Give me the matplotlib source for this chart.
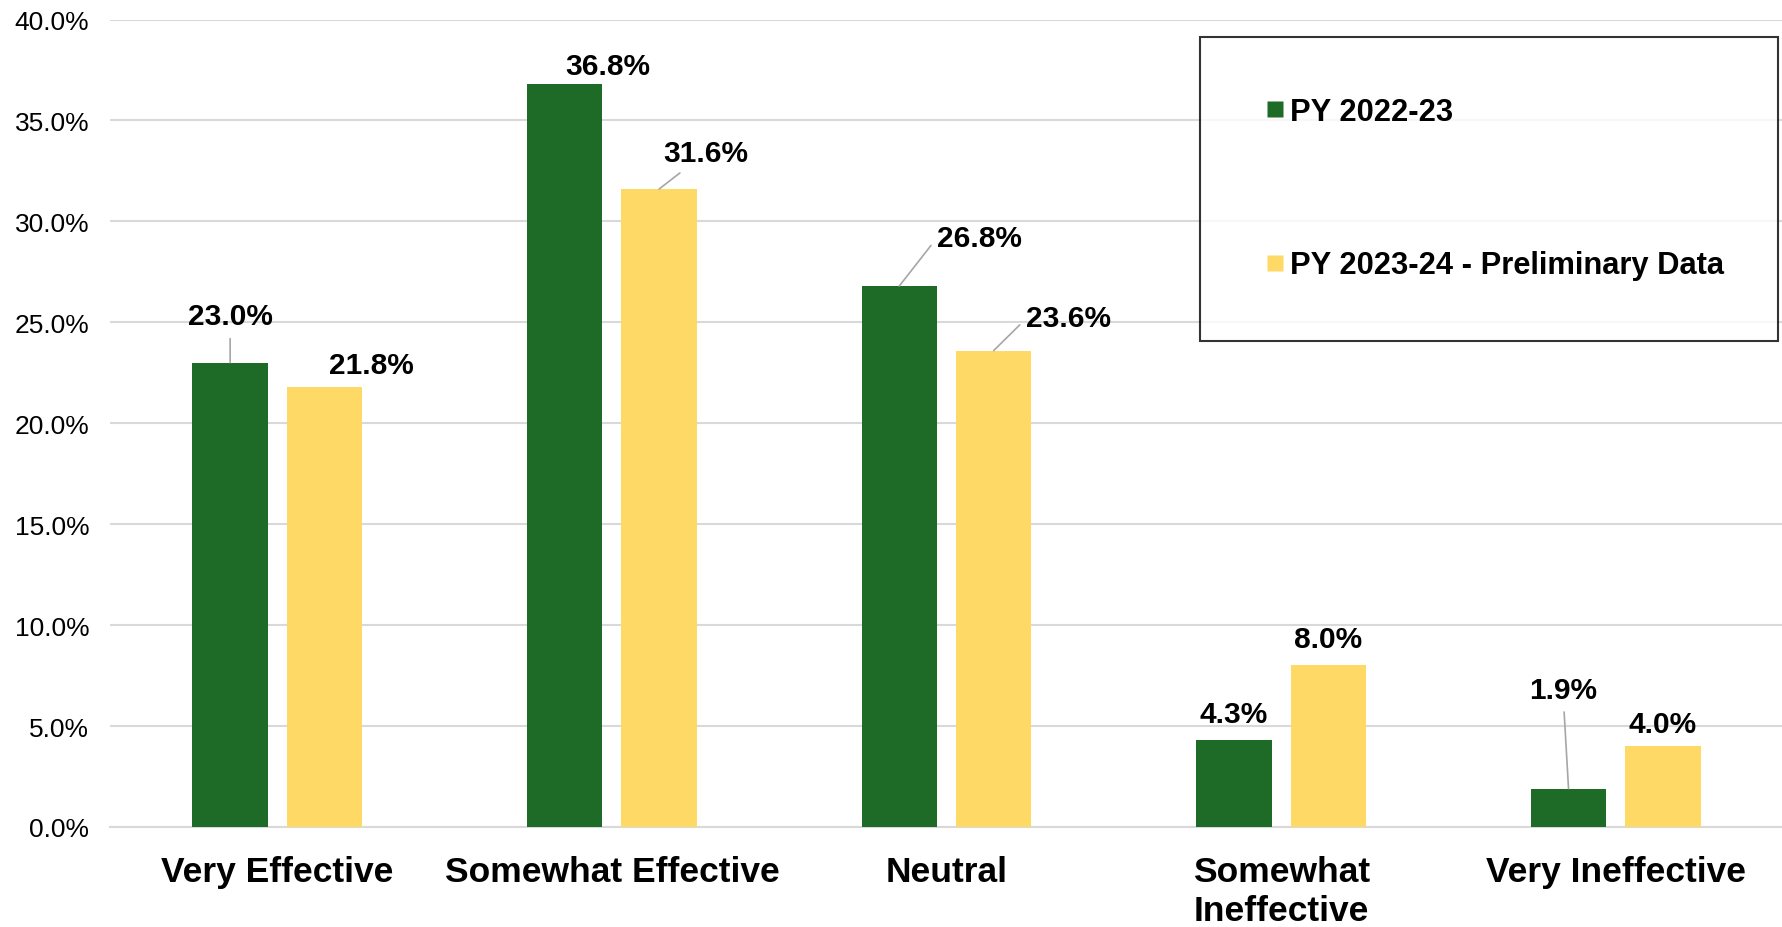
import matplotlib.pyplot as plt
import numpy as np
from matplotlib.lines import Line2D

plt.rcParams['font.family'] = ['Liberation Sans', 'DejaVu Sans']

# Data
categories = ["Very Effective", "Somewhat Effective", "Neutral", "Somewhat\nIneffective", "Very Ineffective"]
series_names = ["PY 2022-23", "PY 2023-24 - Preliminary Data"]
py_2022_23 = [23.0, 36.8, 26.8, 4.3, 1.9]
py_2023_24 = [21.8, 31.6, 23.6, 8.0, 4.0]

# label placement (x offset from bar centre, y of label centre) and leader-line anchor on the text
green_label_dx = [0.0, 0.13, 0.24, 0.0, -0.017]
green_label_y = [25.3, 37.7, 29.2, 5.6, 6.8]
green_leader = [(0.5, 0.5), None, (0.0, 0.5), None, (0.5, 0.5)]
yellow_label_dx = [0.14, 0.14, 0.225, 0.0, 0.0]
yellow_label_y = [22.9, 33.4, 25.2, 9.3, 5.1]
yellow_leader = [None, (0.5, 0.5), (0.0, 0.5), None, None]

green = "#1D6B27"
yellow = "#FED966"
grid_gray = "#D9D9D9"
leader_gray = "#A6A6A6"

fig = plt.figure(figsize=(17.83, 9.28), dpi=100)
ax = fig.add_axes([0.0617, 0.1078, 0.9383, 0.8701])

x = np.arange(len(categories))
offset = 0.141
width = 0.225

ax.bar(x - offset, py_2022_23, width, color=green, zorder=3)
ax.bar(x + offset, py_2023_24, width, color=yellow, zorder=3)


def add_labels(xs, vals, dxs, ys, leaders):
    for xi, v, dx, yl, lead in zip(xs, vals, dxs, ys, leaders):
        txt = f"{v:.1f}%"
        if lead is not None:
            ax.annotate(txt, xy=(xi, v), xytext=(xi + dx, yl), ha="center", va="center",
                        fontsize=21.5, fontweight="bold", zorder=5,
                        arrowprops=dict(arrowstyle="-", color=leader_gray, lw=1.2,
                                        shrinkA=4, shrinkB=0, relpos=lead))
        else:
            ax.text(xi + dx, yl, txt, ha="center", va="center",
                    fontsize=21.5, fontweight="bold", zorder=5)


add_labels(x - offset, py_2022_23, green_label_dx, green_label_y, green_leader)
add_labels(x + offset, py_2023_24, yellow_label_dx, yellow_label_y, yellow_leader)

ax.set_xlim(-0.5, len(categories) - 0.5)
ax.set_ylim(0, 40)
ax.set_yticks(np.arange(0, 41, 5))
ax.set_yticklabels([f"{t:.1f}%" for t in np.arange(0, 41, 5)], fontsize=19)
ax.set_xticks(x)
ax.set_xticklabels(categories, fontsize=25.5, fontweight="bold", linespacing=1.25, va="top")
ax.tick_params(axis="both", length=0)
ax.tick_params(axis="y", pad=15)
ax.tick_params(axis="x", pad=20)

ax.yaxis.grid(True, color=grid_gray, lw=1.5, zorder=0)
ax.set_axisbelow(True)
for side in ["top", "right", "left"]:
    ax.spines[side].set_visible(False)
ax.spines["bottom"].set_color(grid_gray)
ax.spines["bottom"].set_linewidth(1.5)

handles = [Line2D([], [], ls="none", marker="s", markersize=11.5, markerfacecolor=c, markeredgecolor="none")
           for c in (green, yellow)]
leg = ax.legend(handles, series_names, loc="upper left", mode="expand",
                bbox_to_anchor=(1200 / 1783, 1 - 338 / 928, 578 / 1783, 300 / 928),
                bbox_transform=fig.transFigure,
                prop={"weight": "bold", "size": 22.2}, frameon=True, fancybox=False,
                borderpad=1.95, labelspacing=4.0, handlelength=0.96,
                handletextpad=0.02, borderaxespad=0)
leg.get_frame().set_edgecolor("black")
leg.get_frame().set_linewidth(1.5)

fig.savefig("out.png", dpi=100)
